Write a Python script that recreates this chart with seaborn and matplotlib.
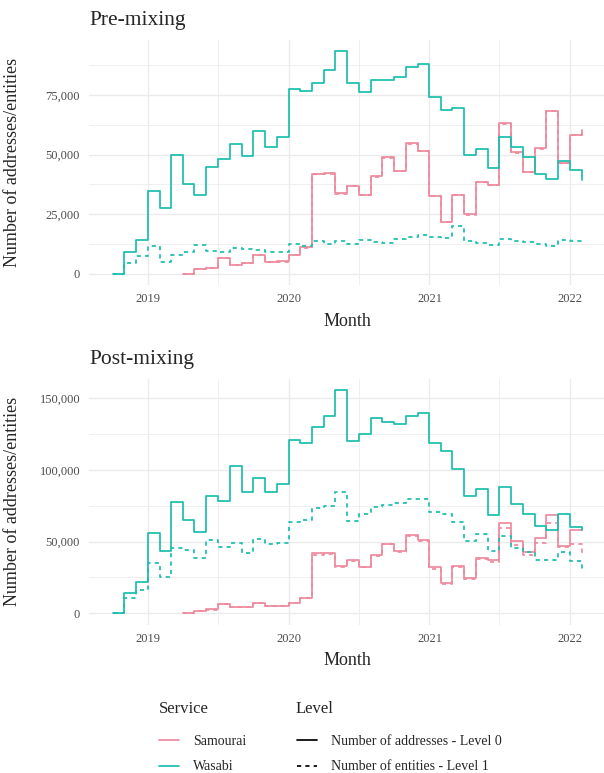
import pandas as pd
import seaborn as sns
import matplotlib.pyplot as plt
import matplotlib.dates as mdates
from matplotlib.ticker import MultipleLocator, FuncFormatter
from matplotlib.lines import Line2D

# Months covered by each service
wasabi_months = pd.date_range('2018-10-01', '2022-02-01', freq='MS')
samourai_months = pd.date_range('2019-04-01', '2022-02-01', freq='MS')

# Pre-mixing values
pre_wasabi_l0 = [0, 9300, 14050,
                 34600, 27700, 49650, 37560, 33100, 44800, 48100, 54500, 49500, 59800, 53100, 57300,
                 77500, 76600, 79800, 85400, 93200, 79800, 76100, 81400, 81400, 82300, 86500, 87900,
                 74000, 68700, 69400, 49800, 52200, 44400, 57300, 53100, 48800, 42000, 39900, 47300,
                 43400, 39500]
pre_wasabi_l1 = [0, 4500, 7700,
                 11900, 4900, 8000, 9300, 12100, 9800, 9000, 10700, 10400, 10100, 9300, 9300,
                 12600, 11900, 13600, 12400, 14000, 12500, 14200, 13500, 12800, 14500, 15600, 16400,
                 15300, 15000, 20200, 13900, 13100, 12100, 14500, 13800, 13400, 12400, 11700, 14200,
                 13900, 13900]
pre_samourai_l0 = [0, 2100, 2700, 6700, 3900, 4500, 7900, 5100, 5300,
                   7900, 11200, 41900, 42200, 33700, 37000, 33100, 40900, 48800, 43300, 54800, 51500,
                   32800, 21800, 33100, 25000, 38700, 37400, 63200, 51000, 42700, 52600, 68400, 46500,
                   58400, 60100]
pre_samourai_l1 = [0, 2000, 2600, 6600, 3800, 4400, 7800, 5000, 5200,
                   7800, 11000, 41700, 42000, 33500, 36800, 32900, 40700, 48600, 43100, 54600, 51300,
                   32600, 21600, 32900, 24800, 38500, 37200, 63000, 50800, 42500, 52400, 68200, 46300,
                   58200, 59900]

# Post-mixing values
post_wasabi_l0 = [0, 14500, 21600,
                  56300, 43500, 77700, 64800, 56400, 81800, 78500, 102600, 84600, 94300, 84500, 90100,
                  121000, 119100, 129600, 137500, 155600, 120300, 124900, 136500, 133500, 132100, 137700, 140000,
                  118600, 113000, 100700, 81900, 86900, 68600, 88300, 76500, 69000, 61200, 58200, 69000,
                  60300, 58400]
post_wasabi_l1 = [0, 11000, 16500,
                  35100, 25100, 45800, 44400, 38500, 50800, 46500, 48700, 42100, 52100, 48300, 48800,
                  63700, 65100, 73300, 75100, 84400, 64500, 69500, 74000, 75400, 77000, 80000, 79500,
                  70900, 69500, 63500, 50200, 55600, 43300, 54200, 45400, 42600, 37000, 37200, 42600,
                  36500, 31200]
post_samourai_l0 = [0, 1900, 2800, 6700, 4400, 4700, 7400, 5100, 5300,
                    7400, 10900, 41900, 42300, 33000, 37100, 32600, 40500, 48600, 43300, 54700, 51200,
                    32600, 20900, 32800, 24400, 38600, 37400, 63000, 50700, 43000, 52300, 68600, 47200,
                    58200, 58600]
post_samourai_l1 = [0, 1800, 2600, 6400, 4200, 4500, 7100, 4900, 5100,
                    7100, 10500, 41000, 41500, 32100, 36500, 32100, 40000, 48400, 42800, 54200, 50700,
                    30700, 20500, 32300, 24000, 37700, 35800, 59300, 47700, 40700, 48800, 63300, 46100,
                    48400, 42300]

services = ['Samourai', 'Wasabi']
levels = ['Number of addresses - Level 0', 'Number of entities - Level 1']
palette = {'Samourai': '#EE8A9E', 'Wasabi': '#19BEAE'}
dashes = {levels[0]: '', levels[1]: (2.4, 2.4)}


def long_frame(sam0, sam1, was0, was1):
    parts = []
    for months, vals, svc, lvl in [(samourai_months, sam0, 'Samourai', levels[0]),
                                   (samourai_months, sam1, 'Samourai', levels[1]),
                                   (wasabi_months, was0, 'Wasabi', levels[0]),
                                   (wasabi_months, was1, 'Wasabi', levels[1])]:
        parts.append(pd.DataFrame({'Month': months, 'Count': vals,
                                   'Service': svc, 'Level': lvl}))
    return pd.concat(parts, ignore_index=True)


pre_df = long_frame(pre_samourai_l0, pre_samourai_l1, pre_wasabi_l0, pre_wasabi_l1)
post_df = long_frame(post_samourai_l0, post_samourai_l1, post_wasabi_l0, post_wasabi_l1)

sns.set_theme(style='white')
plt.rcParams['font.family'] = ['Liberation Serif', 'DejaVu Serif']

fig = plt.figure(figsize=(6.04, 7.73), dpi=100)
ax_top = fig.add_axes([0.1475, 0.6312, 0.8548, 0.3167])
ax_bot = fig.add_axes([0.1475, 0.1921, 0.8548, 0.3176])

comma = FuncFormatter(lambda v, p: f'{int(v):,}')

for ax, df, title, step in [(ax_top, pre_df, 'Pre-mixing', 25000),
                            (ax_bot, post_df, 'Post-mixing', 50000)]:
    sns.lineplot(data=df, x='Month', y='Count', hue='Service', style='Level',
                 palette=palette, dashes=dashes, hue_order=services, style_order=levels,
                 drawstyle='steps-post', lw=1.25, errorbar=None, legend=False, ax=ax)
    ax.set_axisbelow(True)
    for s in ax.spines.values():
        s.set_visible(False)
    ax.yaxis.set_major_locator(MultipleLocator(step))
    ax.yaxis.set_minor_locator(MultipleLocator(step / 2))
    ax.yaxis.set_major_formatter(comma)
    ax.xaxis.set_major_locator(mdates.YearLocator())
    ax.xaxis.set_minor_locator(mdates.MonthLocator(bymonth=7))
    ax.xaxis.set_major_formatter(mdates.DateFormatter('%Y'))
    ax.grid(which='major', color='#EBEBEB', lw=1.0)
    ax.grid(which='minor', color='#EBEBEB', lw=0.55)
    ax.tick_params(which='both', length=0, labelsize=9, labelcolor='#4D4D4D')
    ax.tick_params(axis='y', pad=6.5)
    ax.tick_params(axis='x', pad=5.8)
    ax.margins(x=0.05, y=0.05)
    ax.set_title(title, loc='left', fontsize=15.5, pad=10.8)
    ax.set_xlabel('Month', fontsize=13)
    ax.set_ylabel('Number of addresses/entities', fontsize=13)
    ax.yaxis.set_label_coords(-0.131, 0.5)

ax_top.xaxis.set_label_coords(0.5, -0.114)
ax_bot.xaxis.set_label_coords(0.5, -0.112)

# legend: titles as text, keys below
fig.text(159 / 604, 1 - 713 / 773, 'Service', fontsize=12, va='baseline', ha='left')
fig.text(296 / 604, 1 - 713 / 773, 'Level', fontsize=12, va='baseline', ha='left')

service_handles = [Line2D([], [], color=palette[s], lw=1.25) for s in services]
level_handles = [Line2D([], [], color='black', lw=1.25, linestyle=ls)
                 for ls in ['-', (0, (2.4, 2.4))]]

common = dict(loc='upper left', frameon=False, fontsize=10,
              handlelength=1.45, handletextpad=1.0,
              labelspacing=0.9, borderpad=0, borderaxespad=0)
fig.legend(handles=service_handles, labels=services,
           bbox_to_anchor=(159 / 604, 1 - 735 / 773), **common)
fig.legend(handles=level_handles, labels=levels,
           bbox_to_anchor=(297 / 604, 1 - 735 / 773), **common)

fig.savefig('out.png', dpi=100)
